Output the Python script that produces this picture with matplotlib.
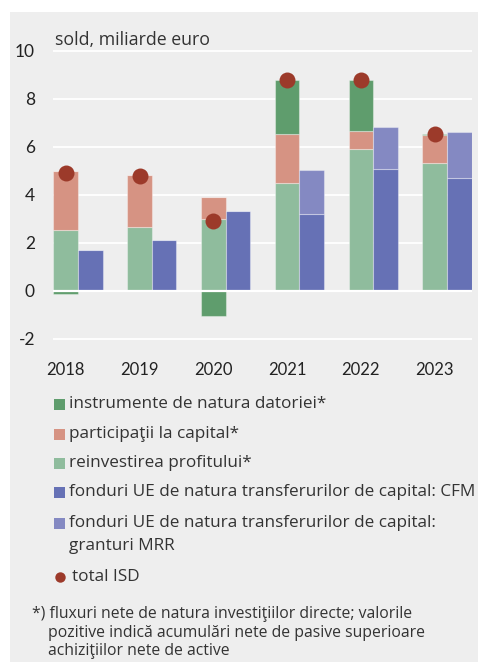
import matplotlib
matplotlib.use("Agg")
import matplotlib.pyplot as plt
from matplotlib.patches import Rectangle
from matplotlib.lines import Line2D
import numpy as np

years = ["2018", "2019", "2020", "2021", "2022", "2023"]
debt = [-0.14, 0.0, -1.03, 2.25, 2.12, 0.05]          # instrumente de natura datoriei
equity = [2.47, 2.15, 0.92, 2.06, 0.77, 1.19]         # participatii la capital
reinvest = [2.54, 2.67, 3.00, 4.50, 5.90, 5.32]       # reinvestirea profitului
cfm = [1.72, 2.14, 3.32, 3.21, 5.08, 4.72]            # fonduri UE: CFM
mrr = [0.0, 0.0, 0.0, 1.85, 1.77, 1.89]               # fonduri UE: granturi MRR
total_isd = [4.92, 4.81, 2.92, 8.81, 8.80, 6.53]
yticks = [-2, 0, 2, 4, 6, 8, 10]

labels = ["instrumente de natura datoriei*",
          "participaţii la capital*",
          "reinvestirea profitului*",
          "fonduri UE de natura transferurilor de capital: CFM",
          ["fonduri UE de natura transferurilor de capital:", "granturi MRR"],
          "total ISD"]
title = "sold, miliarde euro"
footnote = ["*) fluxuri nete de natura investiţiilor directe; valorile",
            "pozitive indică acumulări nete de pasive superioare",
            "achiziţiilor nete de active"]

c_debt = "#5f9d6d"
c_eq = "#d69383"
c_re = "#8fbc9d"
c_cfm = "#6671b5"
c_mrr = "#8489c2"
c_dot = "#9c3a2a"
bg = "#eeeeee"
txt = "#333333"

W, H = 478, 662
fig = plt.figure(figsize=(W / 100, H / 100), dpi=100)
fig.patch.set_facecolor("white")
fig.add_artist(Rectangle((10 / W, 0), (W - 10) / W, (H - 12) / H,
                         transform=fig.transFigure, facecolor=bg, edgecolor="none", zorder=0))

fam = ["Open Sans", "DejaVu Sans"]
tfam = ["Lato", "DejaVu Sans"]

ax_l, ax_r = 53, 472
y_top_val, y_bot_val = 10.2, -2.2
px10, pxm2 = 51, 339
ppu = (pxm2 - px10) / 12.0
top_px = px10 - (y_top_val - 10) * ppu
bot_px = pxm2 + (-2 - y_bot_val) * ppu
ax = fig.add_axes([ax_l / W, 1 - bot_px / H, (ax_r - ax_l) / W, (bot_px - top_px) / H])
ax.set_facecolor("none")
for s in ax.spines.values():
    s.set_visible(False)

x = np.arange(len(years))
bw = 0.333
xl = x - bw / 2
xr = x + bw / 2
edge = dict(edgecolor=(1, 1, 1, 0.35), linewidth=0.8)

debt_a = np.array(debt)
eq_a = np.array(equity)
re_a = np.array(reinvest)
pos_debt = np.where(debt_a > 0, debt_a, 0)
neg_debt = np.where(debt_a < 0, debt_a, 0)

ax.bar(xl, re_a, bw, color=c_re, zorder=2, **edge)
ax.bar(xl, eq_a, bw, bottom=re_a, color=c_eq, zorder=2, **edge)
ax.bar(xl, pos_debt, bw, bottom=re_a + eq_a, color=c_debt, zorder=2, **edge)
ax.bar(xl, neg_debt, bw, color=c_debt, zorder=2, **edge)
ax.bar(xr, cfm, bw, color=c_cfm, zorder=2, **edge)
ax.bar(xr, mrr, bw, bottom=cfm, color=c_mrr, zorder=2, **edge)
ax.plot(xl, total_isd, "o", color=c_dot, markersize=11.5, markeredgewidth=0, zorder=4)

for v in yticks:
    if v == 0:
        ax.axhline(0, color="white", lw=1.6, zorder=3)
    else:
        ax.axhline(v, color="white", lw=1.3, zorder=1)

ax.set_xlim(-0.339, len(years) - 1 + 0.339)
ax.set_ylim(y_bot_val, y_top_val)
ax.set_yticks(yticks)
ax.set_yticklabels([str(v) for v in yticks], fontsize=12.5, color="#222222", family=tfam)
ax.set_xticks(xl)
ax.set_xticklabels(years, fontsize=12, color="#222222", family=tfam)
ax.tick_params(axis="y", length=0, pad=13)
ax.tick_params(axis="x", length=0, pad=13)

fig.text(55 / W, 1 - 40 / H, title, fontsize=12.8, color=txt, family=fam, va="center", ha="left")

rows = [404, 434, 463, 492, 523]
cols = [c_debt, c_eq, c_re, c_cfm, c_mrr]
for r, c, lab in zip(rows, cols, labels[:5]):
    fig.add_artist(Rectangle((54 / W, 1 - (r + 5.5) / H), 11 / W, 11 / H,
                             transform=fig.transFigure, facecolor=c, edgecolor="none"))
    lines = lab if isinstance(lab, list) else [lab]
    for k, line in enumerate(lines):
        fig.text(69 / W, 1 - (r + 23 * k) / H, line, fontsize=12.3, color=txt, family=fam,
                 va="center", ha="left")
fig.add_artist(Line2D([60 / W], [1 - 577 / H], marker="o", color=c_dot, markersize=7.5,
                      markeredgewidth=0, transform=fig.transFigure))
fig.text(72 / W, 1 - 577 / H, labels[5], fontsize=12.3, color=txt, family=fam, va="center", ha="left")

for i, (line, yy) in enumerate(zip(footnote, [614, 633, 651])):
    fig.text((32 if i == 0 else 48) / W, 1 - yy / H, line, fontsize=11.3, color=txt,
             family=fam, va="center", ha="left")

fig.savefig("out.png", dpi=100, facecolor=fig.get_facecolor())
